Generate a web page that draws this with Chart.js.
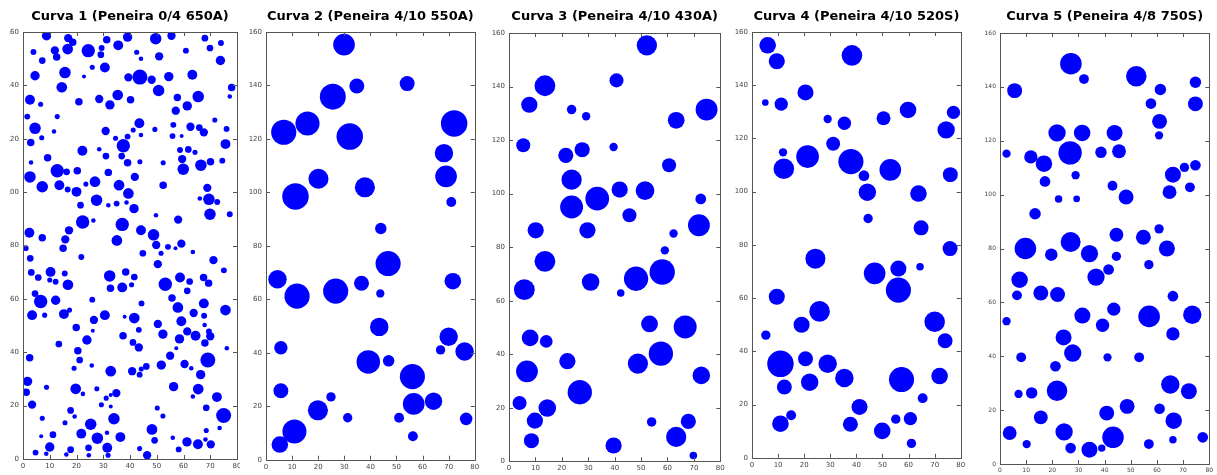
<!DOCTYPE html>
<html>
<head>
<meta charset="utf-8">
<script src="https://cdn.jsdelivr.net/npm/chart.js@4/dist/chart.umd.min.js"></script>
<style>
  html, body { margin: 0; padding: 0; background: #fff; width: 1217px; height: 475px; overflow: hidden; }
  canvas { position: absolute; top: 0; }
  .clip { position: absolute; left: 9px; top: 0; width: 231px; height: 475px; overflow: hidden; }
</style>
</head>
<body>
<div class="clip"><canvas id="c1"></canvas></div>
<canvas id="c2"></canvas>
<canvas id="c3"></canvas>
<canvas id="c4"></canvas>
<canvas id="c5"></canvas>
<script>
// each point: [x, y, diameter] in axis units
const curva1 = [
  [8.8,158.6,3.5],[16.9,157.7,3.1],[18.6,156.2,2.8],[31.3,157.1,2.8],[39.1,158.1,3.5],[49.6,157.5,4.3],[55.5,158.6,3.1],[68,157.7,2.5],[35.6,155,3.7],[16.7,153.6,4.0],
  [11.9,153.1,3.1],[24.4,153,5.0],[29.4,154,2.2],[3.9,152.5,2.2],[69.9,154,2.5],[74,155.9,2.2],[60.9,153,2.2],[29.1,151.5,2.5],[42.5,152.4,1.9],[44.1,150,1.7],
  [12.6,150.6,2.8],[7.2,149.3,2.5],[50.9,150.9,3.1],[73.8,149.3,3.5],[25.9,146.8,1.9],[30.6,146.7,3.7],[15.7,144.8,4.3],[4.5,143.6,3.5],[22.8,143.3,1.5],[39.4,143,3.1],
  [43.7,143.1,5.6],[48.1,142.1,3.1],[54.5,143.3,3.5],[63.3,144,3.7],[14.5,139.3,4.0],[50.7,138.1,4.3],[78,139.2,2.8],[2.6,134.6,3.7],[6.6,132.9,1.9],[20.9,133.9,2.8],
  [28.5,134.9,3.1],[32.5,132.7,3.5],[35.4,136.4,4.0],[40.2,134.6,2.8],[57.7,135.5,2.8],[65.5,135.8,4.3],[77.3,135.8,1.7],[57.1,130.5,3.1],[61.4,132.3,3.5],[1.6,128.3,2.2],
  [12.8,128.3,1.9],[4.5,123.9,4.3],[43.5,125.8,3.7],[49.3,123.5,1.9],[56.2,125.2,2.2],[71.7,127,1.9],[62.6,124.5,3.1],[65.9,124.2,2.5],[67.6,122.4,3.1],[76.1,123.7,2.2],
  [11.6,122.7,1.7],[30.9,122.9,3.1],[41.2,123.3,1.9],[44.1,121.4,1.7],[39.1,120.8,2.2],[34.6,120.2,1.9],[7,120.4,1.9],[55.9,121,2.2],[59.3,121,1.5],[2.9,118.6,2.8],
  [37.5,117.4,5.0],[22.2,115.5,3.7],[28.5,116.1,1.7],[75.7,118,3.7],[58.7,115.8,2.2],[61.8,116,2.5],[64.3,114.9,1.9],[9.2,112.9,2.8],[31,113.5,2.5],[36.9,113.5,2.5],
  [59.5,112.4,3.1],[3,111.1,1.7],[39.1,111,2.8],[43.7,111.4,1.9],[52.4,111,1.9],[70.1,111.4,2.8],[74.5,111.8,2.2],[12.8,108,5.0],[16.3,107.6,2.5],[20.3,108,2.8],
  [31.9,107.4,2.8],[59.9,108.6,4.3],[66.5,110.1,4.3],[2.6,105.7,4.3],[41.8,105.7,3.1],[7.2,102,4.3],[13.6,102.6,3.7],[16.7,101,2.2],[20,100.1,3.7],[23.5,103,1.9],
  [26.9,103.9,4.0],[35.9,102.6,4.0],[39.4,99.5,4.0],[52.4,102.6,2.8],[68.9,101.6,3.1],[69.5,97.3,4.3],[72.6,96.3,2.2],[66.1,97.6,1.7],[27.5,97,4.3],[21.5,95.1,2.5],
  [31.9,95.1,1.7],[35,95.7,2.2],[38.7,96.1,1.7],[41.5,93.8,3.5],[69.9,91.7,4.3],[49.7,91.3,1.7],[77.3,91.7,2.2],[58,89.7,3.1],[22.3,88.8,5.0],[26.3,89.4,1.7],
  [37.1,87.9,5.0],[2.4,84.8,3.7],[17.2,85.7,3.1],[44.1,85.7,3.7],
  [7.2,82.9,2.8],[15.8,82.3,3.1],[35.1,81.9,4.0],[48.8,84,4.3],[1,79,2.2],[15,79,2.8],[49.8,80.2,3.1],[54.2,79.5,2.2],[57,79,1.5],[59.2,80.7,3.1],
  [51.6,77.1,1.9],[63.5,77.6,1.7],[2.7,75.2,2.5],[21.8,75.7,2.2],[44.8,77.1,2.5],[71.2,74.5,3.1],[50.4,73,3.1],[3.1,69.9,2.5],[10.3,70.1,3.7],[15.6,69.5,2.2],
  [32.4,68.6,4.3],[38.4,70.1,2.8],[41.6,68.2,2.5],[5.7,68,2.5],[10,67.1,1.9],[12.2,66.4,2.2],[16.8,65.3,4.0],[53.2,65.5,5.0],[58.7,68,3.7],[62.3,66.5,2.5],
  [67.5,68,2.8],[69.4,65.9,2.8],[75.1,70.7,2.2],[32.7,64,2.8],[37.1,64.3,3.7],[40.6,65.3,1.9],[61.4,63,2.5],[4.5,62,2.5],[6.6,59,5.0],[12.2,59.5,3.5],
  [25.9,59.7,2.2],[55.7,60.3,2.8],[44.3,58.3,2.2],[67.6,58.3,3.7],[57.9,56.8,4.0],[75.7,55.8,4.0],[3.4,53.9,3.7],[8.1,53.9,1.9],[15.3,54.3,3.7],[17.4,55.8,1.9],
  [30.6,53.9,3.7],[26.5,52.1,3.1],[38,53.3,1.5],[41.6,52.8,4.0],[59.2,51.6,3.7],[63.8,54.7,3.1],[67.7,53.7,2.2],[19.9,49.3,2.8],[50.4,50.6,3.1],[67.9,50.2,1.7],
  [26.1,48.1,1.5],[43.3,48.4,2.2],[61.4,47.8,3.1],[64.5,46.2,3.7],[52.3,46.8,3.5],[69.5,47.8,2.2],[70,46,3.1],[23.9,44.6,3.5],[37.4,46.2,2.8],[58.5,45,3.5],
  [68,43.5,2.8],[13.4,43.1,2.5],[41.1,43.7,2.5],[43.3,41.8,3.1],[57.3,41.5,1.5],[76.2,41.5,1.7],[20.5,40.6,2.8],[2.5,37.9,2.8],[55,38.7,3.1],[69.1,37.1,5.6],
  [21.2,37.1,2.5],[25.7,35,1.7],[19.1,34,1.9],[32.8,32.9,4.0],[40.8,32.9,3.1],[43.6,31.6,2.2],[44.2,33.7,1.9],[46.1,34.7,2.5],[51.7,35.2,3.5],[60.4,35.6,3.1],
  [62.9,34,1.7],[66.4,31.6,3.5],[1.7,29.1,3.5],[1.2,25,2.8],[8.8,26.9,1.9],[19.7,26.3,4.0],[22.4,24.4,1.7],[27.6,26.3,1.9],[34.9,24.7,3.1],[32.8,24,1.5],
  [31.1,22.8,1.9],[56.3,27.1,3.5],[65.5,26.2,4.0],[63.5,23.4,1.7],[72.5,23.2,3.7],[3.4,20.4,3.1],[29.3,20.3,1.9],[32.8,19.7,1.5],[50.2,19.1,1.9],[52.3,16.1,1.9],
  [68.5,19.2,2.5],[75,16.3,5.6],[7.2,15.3,1.9],[17.8,18.2,2.5],[19.3,15.9,1.7],[34,15.1,4.3],[15.7,13.6,1.9],[25.3,13,4.3],[48.2,11.1,4.0],[68.5,10.7,1.9],
  [73.5,11.6,1.7],[11.2,9.1,2.5],[21.8,9.5,3.7],[6.8,8.5,1.5],[31.4,9.8,1.7],[27.8,7.8,4.3],[36.4,8.2,3.7],[56,8,1.7],[49.2,7,2.5],[68.2,7.3,1.7],
  [61.3,6.4,3.5],[65.4,5.5,3.7],[70.2,5.5,3.1],[10,4.5,3.5],[17.8,3.5,2.5],[24.5,4.2,2.5],[31.5,4.2,3.7],[4.7,2.4,2.2],[8.7,2,1.7],[16.2,1.7,1.7],
  [24.6,1.4,1.7],[31.8,1.4,1.9],[43.6,3.9,1.9],[46.4,1.4,3.1],[58.2,3.6,2.2]
];

const curva2 = [
  [29.9,155.3,8.1],[34.8,139.8,5.6],[54.1,140.7,5.6],[25.6,135.8,9.7],[15.9,125.8,9.0],[6.8,122.5,9.4],[32.1,120.9,9.9],[72.1,125.8,9.9],[68.2,114.7,6.9],[69,106,8.1],
  [71,96.4,3.7],[20.1,105.1,7.5],[11.3,98.5,9.9],[37.9,101.9,7.5],[44,86.5,4.3],[46.8,73.4,9.4],[4.4,67.5,6.9],[11.9,61.2,9.4],[26.7,63.1,9.4],[36.6,66,5.6],
  [43.8,62.2,3.1],[71.6,66.8,6.2],[43.4,49.7,6.9],[5.7,41.9,5.0],[39.2,36.6,8.8],[47,37,4.3],[70,46,6.9],[66.9,41.1,3.5],[76.1,40.5,6.9],[56.1,31.1,9.4],
  [5.7,25.8,5.6],[24.9,23.5,3.5],[19.9,18.5,7.5],[56.6,20.9,8.1],[64.2,21.9,6.5],[31.3,15.7,3.5],[51,15.7,3.7],[76.7,15.3,4.7],[10.9,10.6,9.0],[5.3,5.7,6.2],
  [56.3,8.8,3.7]
];

const curva3 = [
  [52.2,155.4,7.5],[13.6,140.3,7.7],[40.7,142.3,5.2],[7.7,133.2,6.0],[23.7,131.4,3.5],[29.2,128.9,3.1],[74.8,131.4,8.1],[63.3,127.4,6.2],[5.4,118.1,5.2],[21.5,114.3,5.6],
  [27.7,116.4,5.6],[39.6,117.4,3.1],[60.6,110.6,5.2],[23.7,105.2,7.5],[41.9,101.5,6.0],[51.5,101.1,6.9],[33.4,98.1,8.8],[23.7,95,8.5],[72.6,98,4.0],[45.6,91.9,5.2],
  [10.1,86.3,6.0],[29.7,86.3,6.0],[71.9,88.2,8.1],[62.3,85.1,3.1],[59,78.8,3.1],[13.6,74.7,7.7],[58,70.7,9.4],[48.1,68.2,9.0],[30.9,67,6.5],[5.8,64.1,7.7],
  [42.3,62.9,2.8],[53.2,51.3,6.2],[66.7,50.2,8.5],[8,46.1,6.2],[14.1,44.8,4.7],[57.5,40.2,9.0],[22.1,37.4,6.0],[48.8,36.5,7.5],[6.8,33.6,8.1],[72.8,32.1,6.5],
  [26.8,25.8,9.0],[4,21.8,5.2],[14.5,19.9,6.5],[9.8,15.2,6.0],[54,14.7,3.5],[67.9,14.9,5.6],[8.5,7.7,5.6],[63.3,9.1,7.5],[39.6,5.9,6.0],[69.8,2.2,2.8]
];

const curva4 = [
  [6,155,6.2],[9.5,149,6.0],[38.3,151.2,7.7],[20.5,137.3,6.0],[5.1,133.5,2.5],[11.2,132.9,5.0],[29,127.3,3.1],[35.4,125.7,5.0],[50.4,127.6,5.2],[59.8,130.7,6.2],
  [77.2,129.8,5.0],[74.4,123.2,6.5],[31.1,118,5.2],[11.9,114.8,3.1],[21.3,113.2,8.5],[12.2,108.6,7.7],[37.9,111.3,9.4],[42.9,106,4.0],[53,108.2,8.1],[76,106.4,5.6],
  [44.2,99.8,6.5],[63.8,99.3,6.2],[44.5,89.9,3.5],[64.8,86.4,5.6],[75.9,78.6,5.6],[24.3,74.8,7.5],[64.4,71.8,2.8],[56.1,71.1,6.0],[47,69.3,8.1],[56.1,63,9.4],
  [9.5,60.5,6.0],[25.9,55,7.7],[19,50,6.0],[70,51.1,7.7],[5.3,46.1,3.5],[74,44,5.6],[10.9,35.3,9.9],[20.5,37.2,5.6],[29,35.3,6.9],[35.4,30,6.9],
  [57.3,29.4,9.4],[71.9,30.7,6.2],[12.4,26.6,5.6],[22.1,28.4,6.5],[65.4,22.4,3.7],[41.2,19.1,6.0],[15,16,3.7],[10.9,12.8,6.2],[37.7,12.6,5.6],[55.1,14.5,3.5],
  [60.7,14.7,5.0],[49.9,10.1,6.2],[61.1,5.4,3.5]
];

const curva5 = [
  [27.1,148.6,8.1],[32.1,142.9,3.7],[5.6,138.6,5.6],[52.1,143.9,7.7],[61.3,139,4.3],[57.7,133.8,4.0],[74.7,141.7,4.3],[74.7,133.7,5.6],[61,127.2,5.6],[60.8,122,3.1],
  [21.8,122.9,6.5],[31.4,122.9,6.2],[43.8,122.9,6.0],[2.5,115.2,3.1],[11.8,114,5.0],[16.8,111.5,6.2],[26.8,115.5,8.8],[38.6,115.7,4.3],[45.5,116.1,5.2],[17.2,104.9,4.0],
  [28.9,107.2,3.1],[22.4,98.4,2.8],[29.3,98.4,2.5],[43,103.3,3.7],[48.2,99.1,5.6],[66.1,107.4,6.0],[70.5,110.1,3.5],[74.7,110.9,4.0],[64.8,100.9,5.2],[72.6,102.7,3.7],
  [13.4,92.9,4.3],[9.7,80,8.1],[19.6,77.7,4.7],[27,82.4,7.5],[34.2,78.1,6.5],[44.5,85.1,5.2],[44.5,77.1,3.5],[54.8,84.2,5.6],[60.8,87.3,3.5],[63.8,80,6.0],
  [56.9,74,3.5],[7.5,68.4,6.2],[36.7,69.4,6.5],[41.5,72.2,4.0],[6.5,62.6,3.7],[15.6,63.5,5.6],[22,62.9,5.6],[66.1,62.3,4.0],[2.5,53,3.1],[31.5,55.1,6.0],
  [43.5,57.5,5.0],[57,54.8,8.1],[73.5,55.4,6.9],[39.2,51.5,5.0],[24.3,47,6.0],[66.1,48.3,5.0],[27.8,41.2,6.5],[8.1,39.6,3.7],[41.1,39.6,3.1],[53.2,39.6,3.7],
  [21.2,36.3,4.0],[21.8,27.2,7.7],[7.1,26,3.1],[12.1,26.4,4.3],[65.1,29.5,6.9],[72.2,27,6.0],[48.6,21.4,5.6],[61,20.5,4.0],[40.8,18.9,5.6],[15.6,17.3,5.2],
  [66.4,16.1,6.2],[3.7,11.5,5.2],[24.5,11.9,6.5],[43.2,9.9,8.1],[77.5,9.9,4.0],[10.2,7.4,3.1],[27,5.9,4.0],[34.2,5.3,6.0],[38.9,5.9,2.8],[56.9,7.4,3.7],
  [66.1,9,2.8]
];

const titles = [
  'Curva 1 (Peneira 0/4 650A)',
  'Curva 2 (Peneira 4/10 550A)',
  'Curva 3 (Peneira 4/10 430A)',
  'Curva 4 (Peneira 4/10 520S)',
  'Curva 5 (Peneira 4/8 750S)'
];
const xMax = 80, xStep = 10;
const yMax = 160, yStep = 20;

// plot box of each panel on the page
const panels = [
  { id: 'c1', pts: curva1, left: 23, width: 214, top: 32, bottom: 459, tick: 7, offset: 9 },
  { id: 'c2', pts: curva2, left: 266, width: 214, top: 32, bottom: 461, tick: 7, offset: 0 },
  { id: 'c3', pts: curva3, left: 509, width: 216, top: 33, bottom: 462, tick: 7, offset: 0 },
  { id: 'c4', pts: curva4, left: 752, width: 214, top: 32, bottom: 459, tick: 7, offset: 0 },
  { id: 'c5', pts: curva5, left: 1000, width: 213, top: 33, bottom: 464, tick: 6, offset: 0 }
];

const YW = 26, XH = 12, PADR = 8;

// matplotlib style box with inward ticks on all sides
const framePlugin = {
  id: 'frame',
  afterDatasetsDraw(chart) {
    const { ctx, chartArea: a, scales } = chart;
    ctx.save();
    ctx.strokeStyle = '#555';
    ctx.lineWidth = 1;
    ctx.beginPath();
    scales.x.ticks.forEach(t => {
      const px = Math.round(scales.x.getPixelForValue(t.value)) + 0.5;
      ctx.moveTo(px, a.bottom); ctx.lineTo(px, a.bottom - 4);
      ctx.moveTo(px, a.top); ctx.lineTo(px, a.top + 4);
    });
    scales.y.ticks.forEach(t => {
      const py = Math.round(scales.y.getPixelForValue(t.value)) + 0.5;
      ctx.moveTo(a.left, py); ctx.lineTo(a.left + 4, py);
      ctx.moveTo(a.right, py); ctx.lineTo(a.right - 4, py);
    });
    ctx.stroke();
    ctx.strokeRect(Math.round(a.left) + 0.5, Math.round(a.top) + 0.5,
      Math.round(a.right - a.left), Math.round(a.bottom - a.top));
    ctx.restore();
  }
};

panels.forEach((p, i) => {
  const cv = document.getElementById(p.id);
  cv.width = p.width + YW + PADR;
  cv.height = p.bottom + XH;
  cv.style.left = (p.left - YW - p.offset) + 'px';
  const unit = p.width / xMax; // pixels per axis unit

  new Chart(cv, {
    type: 'bubble',
    data: {
      datasets: [{
        data: p.pts.map(([x, y, d]) => ({ x, y, r: d / 2 * unit })),
        backgroundColor: '#0000ff',
        borderWidth: 0,
        clip: 0
      }]
    },
    options: {
      responsive: false,
      animation: false,
      events: [],
      layout: { padding: { left: 0, right: PADR, top: 0, bottom: 0 } },
      plugins: {
        legend: { display: false },
        tooltip: { enabled: false },
        title: {
          display: true,
          text: titles[i],
          fullSize: false,
          color: '#000',
          font: { family: 'DejaVu Sans', size: 13, weight: 'bold', lineHeight: 1.2 },
          padding: { top: 9, bottom: p.top - 9 - 15.6 }
        }
      },
      scales: {
        x: {
          type: 'linear',
          min: 0, max: xMax,
          grid: { display: false, drawTicks: false },
          border: { display: false },
          afterFit: s => { s.height = XH; },
          ticks: {
            stepSize: xStep, maxRotation: 0, autoSkip: false, padding: 3,
            color: '#444', font: { family: 'DejaVu Sans', size: p.tick }
          }
        },
        y: {
          type: 'linear',
          min: 0, max: yMax,
          grid: { display: false, drawTicks: false },
          border: { display: false },
          afterFit: s => { s.width = YW; },
          ticks: {
            stepSize: yStep, autoSkip: false, padding: 4,
            color: '#444', font: { family: 'DejaVu Sans', size: p.tick }
          }
        }
      }
    },
    plugins: [framePlugin]
  });
});
</script>
</body>
</html>
